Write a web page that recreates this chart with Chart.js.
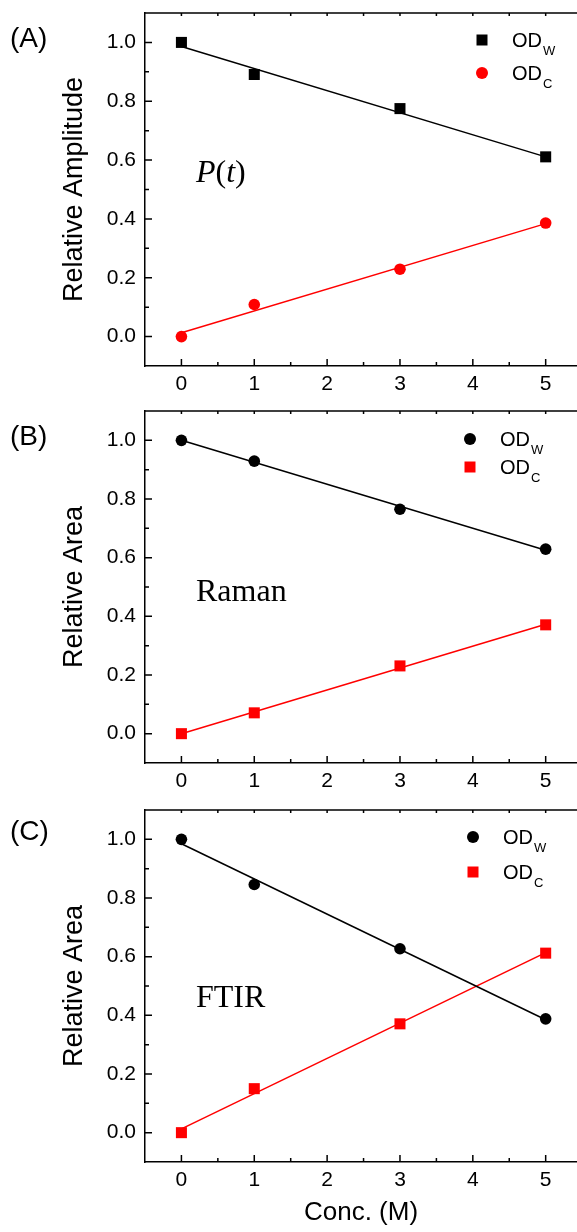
<!DOCTYPE html>
<html>
<head>
<meta charset="utf-8">
<script src="https://cdn.jsdelivr.net/npm/chart.js@4.4.0/dist/chart.umd.min.js"></script>
<style>
  html, body { margin: 0; padding: 0; background: #fff; }
  body { width: 577px; height: 1232px; position: relative; overflow: hidden; }
  .panel { position: absolute; left: 0; width: 577px; }
  .tag { position: absolute; left: 10px; font: 28px "Liberation Sans", Arial, sans-serif; color: #000; }
</style>
</head>
<body>
<div class="panel" id="pa" style="top:0;height:400px"><canvas id="chartA"></canvas></div>
<div class="panel" id="pb" style="top:400px;height:398px"><canvas id="chartB"></canvas></div>
<div class="panel" id="pc" style="top:798px;height:434px"><canvas id="chartC"></canvas></div>
<div class="tag" style="top:22px">(A)</div>
<div class="tag" style="top:420px">(B)</div>
<div class="tag" style="top:815px">(C)</div>
<script>
// concentrations (M) and the two ends of each fitted line
const concX = [0, 1, 3, 5];
const fitX = [0, 5];
const xTicks = [0, 1, 2, 3, 4, 5];
const yTicks = [0, 0.2, 0.4, 0.6, 0.8, 1.0];

// (A) P(t) relative amplitude
const ampW = [1.0, 0.891, 0.775, 0.611];
const ampC = [0.0, 0.109, 0.229, 0.386];
const ampWFit = [0.986, 0.611];
const ampCFit = [0.013, 0.384];

// (B) Raman relative area
const ramanW = [1.0, 0.929, 0.765, 0.629];
const ramanC = [0.0, 0.071, 0.231, 0.371];
const ramanWFit = [1.0, 0.625];
const ramanCFit = [0.0, 0.373];

// (C) FTIR relative area
const ftirW = [1.0, 0.846, 0.627, 0.388];
const ftirC = [0.0, 0.15, 0.371, 0.612];
const ftirWFit = [0.985, 0.385];
const ftirCFit = [0.013, 0.614];

const SANS = '"Liberation Sans", Arial, sans-serif';
const SERIF = '"Liberation Serif", "Times New Roman", serif';
const RED = '#ff0000';

const pts = (xs, ys) => xs.map((x, i) => ({ x, y: ys[i] }));

function markers(data, color, style, sub) {
  return {
    data, showLine: false, legend: true, label: 'OD', sub,
    pointStyle: style, pointRadius: style === 'rect' ? 7.8 : 5.8,
    backgroundColor: color, borderColor: color, borderWidth: 0, pointHoverRadius: 0,
  };
}
function fitLine(data, color) {
  return { data, showLine: true, borderColor: color, borderWidth: 1.5, pointRadius: 0, fill: false };
}

// no extra room for overhanging tick labels
function noPad(s) {
  s.paddingTop = 0; s.paddingBottom = 0; s.paddingLeft = 0; s.paddingRight = 0;
}

// inward ticks, top axis line, legend and in-plot label
const decor = {
  id: 'decor',
  afterDraw(chart, args, o) {
    const { ctx, chartArea: a, scales: { x, y } } = chart;
    ctx.save();
    ctx.strokeStyle = '#000';
    ctx.lineWidth = 1.5;
    ctx.beginPath();
    ctx.moveTo(a.left, a.top); ctx.lineTo(a.right, a.top);
    for (let v = -0.5; v <= x.max; v += 0.5) {
      const px = x.getPixelForValue(v);
      if (px <= a.left + 1) continue;
      const major = Number.isInteger(v);
      ctx.moveTo(px, a.bottom); ctx.lineTo(px, a.bottom - (major ? 7 : 4));
      ctx.moveTo(px, a.top); ctx.lineTo(px, a.top + 3);
    }
    for (let k = 0; k <= 11; k++) {
      const v = k / 10;
      const py = y.getPixelForValue(v);
      ctx.moveTo(a.left, py); ctx.lineTo(a.left + (k % 2 === 0 ? 7 : 4), py);
    }
    ctx.stroke();

    // legend
    chart.data.datasets.filter(d => d.legend).forEach((d, i) => {
      const cx = a.right - o.dx, cy = a.top + o.dy + i * o.gap;
      ctx.fillStyle = d.backgroundColor;
      ctx.beginPath();
      if (d.pointStyle === 'rect') ctx.rect(cx - 5.5, cy - 5.5, 11, 11);
      else ctx.arc(cx, cy, 6, 0, Math.PI * 2);
      ctx.fill();
      ctx.fillStyle = '#000';
      ctx.textBaseline = 'alphabetic';
      ctx.font = '20px ' + SANS;
      const tx = cx + 30;
      ctx.fillText(d.label, tx, cy + 7);
      const w = ctx.measureText(d.label).width;
      ctx.font = '13px ' + SANS;
      ctx.fillText(d.sub, tx + w + 1, cy + 15);
    });

    // in-plot label, anchored in data units
    let lx = x.getPixelForValue(o.note.x);
    const ly = y.getPixelForValue(o.note.y);
    o.note.parts.forEach(([t, it]) => {
      ctx.font = (it ? 'italic ' : '') + '32px ' + SERIF;
      ctx.fillText(t, lx, ly);
      lx += ctx.measureText(t).width;
    });
    ctx.restore();
  }
};

function makeChart(id, datasets, opts) {
  const tickFont = { family: SANS, size: 21 };
  return new Chart(document.getElementById(id), {
    type: 'scatter',
    data: { datasets },
    options: {
      responsive: true,
      maintainAspectRatio: false,
      animation: false,
      events: [],
      layout: { autoPadding: false, padding: { top: opts.padTop, right: 0, left: 0, bottom: 0 } },
      plugins: {
        legend: { display: false },
        tooltip: { enabled: false },
        decor: { dx: opts.legDx, dy: opts.legDy, gap: opts.legGap, note: opts.note },
      },
      scales: {
        x: {
          type: 'linear', min: -0.5, max: 5.43,
          afterBuildTicks: s => { s.ticks = xTicks.map(v => ({ value: v })); },
          afterFit: s => { s.height = opts.xHeight; noPad(s); },
          ticks: { font: tickFont, color: '#000', padding: 6, maxRotation: 0 },
          grid: { display: true, drawOnChartArea: false, drawTicks: false },
          border: { display: true, color: '#000', width: 1.5 },
          title: {
            display: !!opts.xTitle, text: opts.xTitle || '', color: '#000',
            font: { family: SANS, size: 26 }, padding: { top: 0, bottom: 4 },
          },
        },
        y: {
          type: 'linear', min: -0.1, max: 1.1,
          afterBuildTicks: s => { s.ticks = yTicks.map(v => ({ value: v })); },
          afterFit: s => { s.width = 145; noPad(s); },
          ticks: { font: tickFont, color: '#000', padding: 9, callback: v => v.toFixed(1) },
          grid: { display: true, drawOnChartArea: false, drawTicks: false },
          border: { display: true, color: '#000', width: 1.5 },
          title: {
            display: true, text: opts.yTitle, color: '#000',
            font: { family: SANS, size: 27 }, padding: { top: 58, bottom: 0 },
          },
        },
      },
    },
    plugins: [decor],
  });
}

makeChart('chartA', [
  markers(pts(concX, ampW), '#000', 'rect', 'W'),
  markers(pts(concX, ampC), RED, 'circle', 'C'),
  fitLine(pts(fitX, ampWFit), '#000'),
  fitLine(pts(fitX, ampCFit), RED),
], {
  padTop: 13, xHeight: 34, yTitle: 'Relative Amplitude',
  legDx: 95, legDy: 27, legGap: 33,
  note: { x: 0.2, y: 0.525, parts: [['P', true], ['(', false], ['t', true], [')', false]] },
});

makeChart('chartB', [
  markers(pts(concX, ramanW), '#000', 'circle', 'W'),
  markers(pts(concX, ramanC), RED, 'rect', 'C'),
  fitLine(pts(fitX, ramanWFit), '#000'),
  fitLine(pts(fitX, ramanCFit), RED),
], {
  padTop: 11, xHeight: 35, yTitle: 'Relative Area',
  legDx: 107, legDy: 28, legGap: 28,
  note: { x: 0.2, y: 0.452, parts: [['Raman', false]] },
});

makeChart('chartC', [
  markers(pts(concX, ftirW), '#000', 'circle', 'W'),
  markers(pts(concX, ftirC), RED, 'rect', 'C'),
  fitLine(pts(fitX, ftirWFit), '#000'),
  fitLine(pts(fitX, ftirCFit), RED),
], {
  padTop: 12, xHeight: 70, yTitle: 'Relative Area', xTitle: 'Conc. (M)',
  legDx: 104, legDy: 27, legGap: 35,
  note: { x: 0.2, y: 0.43, parts: [['FTIR', false]] },
});
</script>
</body>
</html>
